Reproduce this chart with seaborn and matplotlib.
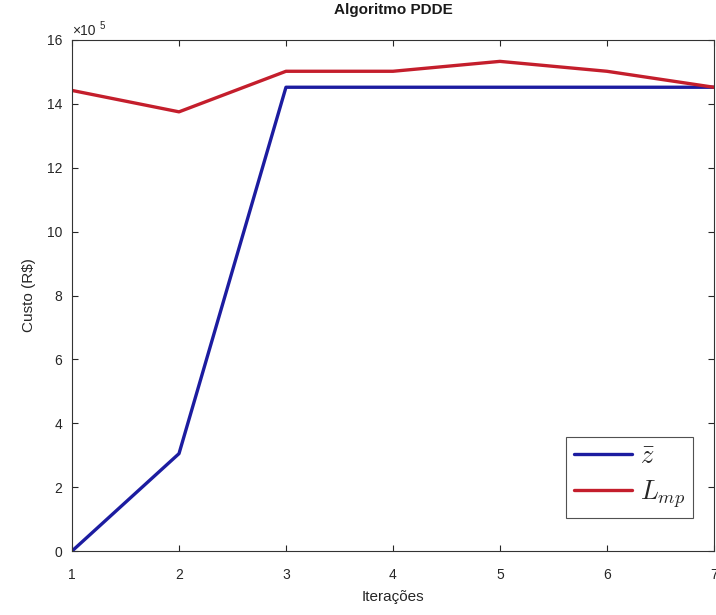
import numpy as np
import pandas as pd
import matplotlib
matplotlib.use("Agg")
import matplotlib.pyplot as plt
import seaborn as sns

iteracoes = [1, 2, 3, 4, 5, 6, 7]
z_bar = [0.0, 3.05, 14.52, 14.52, 14.52, 14.52, 14.52]   # x 10^5
L_mp = [14.42, 13.75, 15.02, 15.02, 15.33, 15.02, 14.52]  # x 10^5
series_labels = [r"$\bar{z}$", r"$L_{mp}$"]
colors = ["#1c1ca0", "#c41e2c"]
xticks = [1, 2, 3, 4, 5, 6, 7]
yticks = [0, 2, 4, 6, 8, 10, 12, 14, 16]

df = pd.DataFrame({
    "Iteracoes": iteracoes * 2,
    "Custo": z_bar + L_mp,
    "Serie": [series_labels[0]] * len(iteracoes) + [series_labels[1]] * len(iteracoes),
})

sns.set_theme(style="white")
plt.rcParams['font.family'] = ['Liberation Sans', 'DejaVu Sans']
plt.rcParams['mathtext.fontset'] = 'cm'

fig = plt.figure(figsize=(7.16, 6.15), dpi=100)
ax = fig.add_axes([0.1006, 0.104, 0.8964, 0.831])

sns.lineplot(data=df, x="Iteracoes", y="Custo", hue="Serie", palette=colors,
             linewidth=2.4, ax=ax, legend=True)

ax.set_xlim(1, 7)
ax.set_ylim(0, 16)
ax.set_xticks(xticks)
ax.set_yticks(yticks)
ax.tick_params(direction="in", length=4, colors="#262626", labelsize=10, width=0.8,
               top=True, right=True, bottom=True, left=True)
ax.tick_params(axis="x", pad=12)
ax.tick_params(axis="y", pad=7)
for s in ax.spines.values():
    s.set_color("#333333")
    s.set_linewidth(0.8)

ax.set_xlabel("Iterações", fontsize=11, color="#262626", labelpad=6)
ax.set_ylabel("Custo (R\\$)", fontsize=11, color="#262626", labelpad=8)
ax.set_title("Algoritmo PDDE", fontsize=11, fontweight="bold", color="#1a1a1a", pad=19)
ax.text(0.0, 1.004, "×10", transform=ax.transAxes, fontsize=10,
        color="#262626", ha="left", va="bottom")
ax.text(0.043, 1.018, "5", transform=ax.transAxes, fontsize=7,
        color="#262626", ha="left", va="bottom")

leg = ax.legend(loc="lower right", bbox_to_anchor=(0.967, 0.065), fontsize=19,
                frameon=True, fancybox=False, handlelength=2.2, borderpad=0.3,
                labelspacing=0.35, handletextpad=0.3, borderaxespad=0.0)
leg.get_frame().set_edgecolor("#262626")
leg.get_frame().set_linewidth(0.8)
for line in leg.get_lines():
    line.set_linewidth(2.4)

fig.savefig("out.png", dpi=100)
